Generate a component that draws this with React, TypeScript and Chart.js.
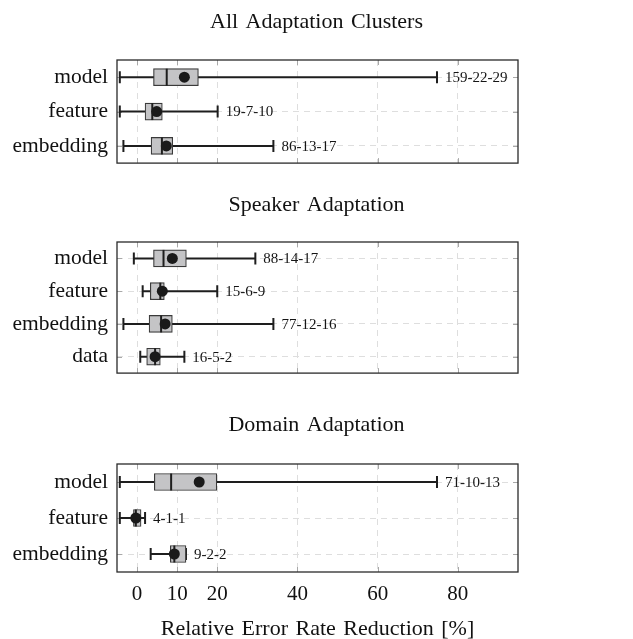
import React, { useEffect, useRef } from "react";
import { Chart, registerables } from "chart.js";

Chart.register(...registerables);

const FONT = "'Liberation Serif', 'Times New Roman', serif";

// x-axis tick values
const xTicks = [0, 10, 20, 40, 60, 80];
const xTitle = "Relative Error Rate Reduction [%]";

// Panel 1: All Adaptation Clusters
const allTitle = "All Adaptation Clusters";
const allCats = ["model", "feature", "embedding"];
const allMin = [-4.3, -4.3, -3.4];
const allQ1 = [4.1, 2.0, 3.5];
const allMed = [7.4, 3.8, 6.2];
const allMean = [11.8, 4.9, 7.3];
const allQ3 = [15.3, 6.3, 8.9];
const allMax = [74.8, 20.1, 34.0];
const allLabels = ["159-22-29", "19-7-10", "86-13-17"];

// Panel 2: Speaker Adaptation
const spkTitle = "Speaker Adaptation";
const spkCats = ["model", "feature", "embedding", "data"];
const spkMin = [-0.8, 1.4, -3.4, 0.8];
const spkQ1 = [4.1, 3.3, 3.0, 2.4];
const spkMed = [6.6, 5.8, 6.0, 4.5];
const spkMean = [8.8, 6.3, 7.0, 4.5];
const spkQ3 = [12.3, 6.8, 8.8, 5.8];
const spkMax = [29.5, 20.0, 34.0, 11.8];
const spkLabels = ["88-14-17", "15-6-9", "77-12-16", "16-5-2"];

// Panel 3: Domain Adaptation
const domTitle = "Domain Adaptation";
const domCats = ["model", "feature", "embedding"];
const domMin = [-4.3, -4.3, 3.4];
const domQ1 = [4.3, -0.9, 8.3];
const domMed = [8.5, -0.3, 9.3];
const domMean = [15.5, -0.3, 9.3];
const domQ3 = [19.9, 1.0, 12.2];
const domMax = [74.8, 2.0, 12.2];
const domLabels = ["71-10-13", "4-1-1", "9-2-2"];

type PanelProps = {
  title: string;
  cats: string[];
  min: number[];
  q1: number[];
  med: number[];
  mean: number[];
  q3: number[];
  max: number[];
  labels: string[];
  top: number;
  height: number;
  titleCenter: number;
  plotTop: number;
  plotBottom: number;
  showX: boolean;
};

function Panel(p: PanelProps) {
  const ref = useRef<HTMLCanvasElement | null>(null);
  useEffect(() => {
    if (!ref.current) return;
    const titleSize = 22;
    const titleH = titleSize * 1.2;
    const padTop = p.titleCenter - titleH / 2;
    const padBottom = p.plotTop - p.titleCenter - titleH / 2;
    const xHeight = p.showX ? p.height - p.plotBottom : 0;
    const layoutBottom = p.showX ? 0 : p.height - p.plotBottom;

    const spacingPlugin = {
      id: "wordSpacing",
      beforeDraw(chart: any) {
        try {
          (chart.ctx as any).wordSpacing = "2px";
        } catch (e) {}
      },
    };

    const boxPlugin = {
      id: "boxParts",
      beforeDatasetsDraw(chart: any) {
        const { ctx, chartArea: a, scales } = chart;
        const xs = scales.x;
        const ys = scales.y;
        ctx.save();
        // inner tick marks
        ctx.strokeStyle = "#a8a8a8";
        ctx.lineWidth = 1;
        ctx.setLineDash([]);
        xTicks.forEach((v) => {
          const px = Math.round(xs.getPixelForValue(v)) + 0.5;
          ctx.beginPath();
          ctx.moveTo(px, a.top);
          ctx.lineTo(px, a.top + 5);
          ctx.moveTo(px, a.bottom);
          ctx.lineTo(px, a.bottom - 5);
          ctx.stroke();
        });
        p.cats.forEach((_, i) => {
          const py = Math.round(ys.getPixelForValue(i)) + 0.5;
          ctx.beginPath();
          ctx.moveTo(a.left, py);
          ctx.lineTo(a.left + 5, py);
          ctx.moveTo(a.right, py);
          ctx.lineTo(a.right - 5, py);
          ctx.stroke();
        });
        // frame
        ctx.strokeStyle = "#2a2a2a";
        ctx.lineWidth = 1.3;
        ctx.strokeRect(a.left, a.top, a.right - a.left, a.bottom - a.top);
        // whiskers
        ctx.strokeStyle = "#1e1e1e";
        ctx.lineWidth = 2;
        p.cats.forEach((_, i) => {
          const py = ys.getPixelForValue(i);
          const x0 = xs.getPixelForValue(p.min[i]);
          const x1 = xs.getPixelForValue(p.max[i]);
          ctx.beginPath();
          ctx.moveTo(x0, py);
          ctx.lineTo(x1, py);
          ctx.moveTo(x0, py - 6);
          ctx.lineTo(x0, py + 6);
          ctx.moveTo(x1, py - 6);
          ctx.lineTo(x1, py + 6);
          ctx.stroke();
          // annotation label
          ctx.fillStyle = "#151515";
          ctx.font = `15px ${FONT}`;
          ctx.textBaseline = "middle";
          ctx.textAlign = "left";
          ctx.fillText(p.labels[i], x1 + 8, py + 1);
        });
        ctx.restore();
      },
      afterDatasetDraw(chart: any, args: any) {
        if (args.index !== 1) return;
        const { ctx, scales } = chart;
        const xs = scales.x;
        const ys = scales.y;
        ctx.save();
        ctx.strokeStyle = "#1e1e1e";
        ctx.lineWidth = 2;
        p.cats.forEach((_, i) => {
          const py = ys.getPixelForValue(i);
          const mx = xs.getPixelForValue(p.med[i]);
          ctx.beginPath();
          ctx.moveTo(mx, py - 8.5);
          ctx.lineTo(mx, py + 8.5);
          ctx.stroke();
        });
        ctx.restore();
      },
    };

    const chart = new Chart(ref.current, {
      type: "bar",
      data: {
        labels: p.cats,
        datasets: [
          {
            type: "scatter",
            data: p.cats.map((c, i) => ({ x: p.mean[i], y: c })),
            pointRadius: 5.5,
            pointHoverRadius: 5.5,
            backgroundColor: "#1a1a1a",
            borderWidth: 0,
          } as any,
          {
            type: "bar",
            data: p.cats.map((_, i) => [p.q1[i], p.q3[i]]),
            backgroundColor: "#c4c4c6",
            borderColor: "#3a3a3a",
            borderWidth: 1.2,
            borderSkipped: false,
            barThickness: 17,
            grouped: false,
          } as any,
        ],
      },
      options: {
        indexAxis: "y",
        responsive: false,
        maintainAspectRatio: false,
        animation: false,
        events: [],
        layout: { padding: { left: 0, right: 0, top: 0, bottom: layoutBottom } },
        plugins: {
          legend: { display: false },
          tooltip: { enabled: false },
          title: {
            display: true,
            text: p.title,
            color: "#111",
            font: { family: FONT, size: titleSize, weight: "normal", lineHeight: 1.2 },
            padding: { top: padTop, bottom: padBottom },
          },
        },
        scales: {
          x: {
            type: "linear",
            min: -5,
            max: 95,
            afterBuildTicks: (s: any) => {
              s.ticks = xTicks.map((v) => ({ value: v }));
            },
            afterFit: (s: any) => {
              s.height = xHeight;
            },
            grid: { color: "#dedede", lineWidth: 1, drawTicks: false },
            border: { display: false, dash: [6, 5] },
            ticks: {
              display: p.showX,
              color: "#111",
              font: { family: FONT, size: 21 },
              padding: 10,
              maxRotation: 0,
              autoSkip: false,
            },
            title: {
              display: p.showX,
              text: xTitle,
              color: "#111",
              font: { family: FONT, size: 22, lineHeight: 0.9 },
              padding: 0,
            },
          },
          y: {
            type: "category",
            offset: true,
            afterFit: (s: any) => {
              s.width = 117;
            },
            grid: { color: "#dedede", lineWidth: 1, drawTicks: false, offset: false },
            border: { display: false, dash: [6, 5] },
            ticks: {
              color: "#111",
              font: { family: FONT, size: 21.5 },
              padding: 9,
            },
          },
          yRight: {
            type: "category",
            position: "right",
            offset: true,
            afterFit: (s: any) => {
              s.width = 115;
            },
            grid: { display: false, drawTicks: false },
            border: { display: false },
            ticks: { display: false },
          },
        },
      } as any,
      plugins: [spacingPlugin, boxPlugin],
    });
    return () => chart.destroy();
  }, []);

  return (
    <canvas
      ref={ref}
      width={633}
      height={p.height}
      style={{
        position: "absolute",
        left: 0,
        top: p.top,
        width: 633,
        height: p.height,
        display: "block",
      }}
    />
  );
}

export default function App() {
  return (
    <div
      style={{
        position: "absolute",
        left: 0,
        top: 0,
        width: 633,
        height: 639,
        background: "#fff",
        overflow: "hidden",
      }}
    >
      <Panel
        title={allTitle}
        cats={allCats}
        min={allMin}
        q1={allQ1}
        med={allMed}
        mean={allMean}
        q3={allQ3}
        max={allMax}
        labels={allLabels}
        top={0}
        height={185}
        titleCenter={22}
        plotTop={60}
        plotBottom={166}
        showX={false}
      />
      <Panel
        title={spkTitle}
        cats={spkCats}
        min={spkMin}
        q1={spkQ1}
        med={spkMed}
        mean={spkMean}
        q3={spkQ3}
        max={spkMax}
        labels={spkLabels}
        top={185}
        height={210}
        titleCenter={20}
        plotTop={57}
        plotBottom={202}
        showX={false}
      />
      <Panel
        title={domTitle}
        cats={domCats}
        min={domMin}
        q1={domQ1}
        med={domMed}
        mean={domMean}
        q3={domQ3}
        max={domMax}
        labels={domLabels}
        top={395}
        height={244}
        titleCenter={30}
        plotTop={69}
        plotBottom={177}
        showX={true}
      />
    </div>
  );
}
